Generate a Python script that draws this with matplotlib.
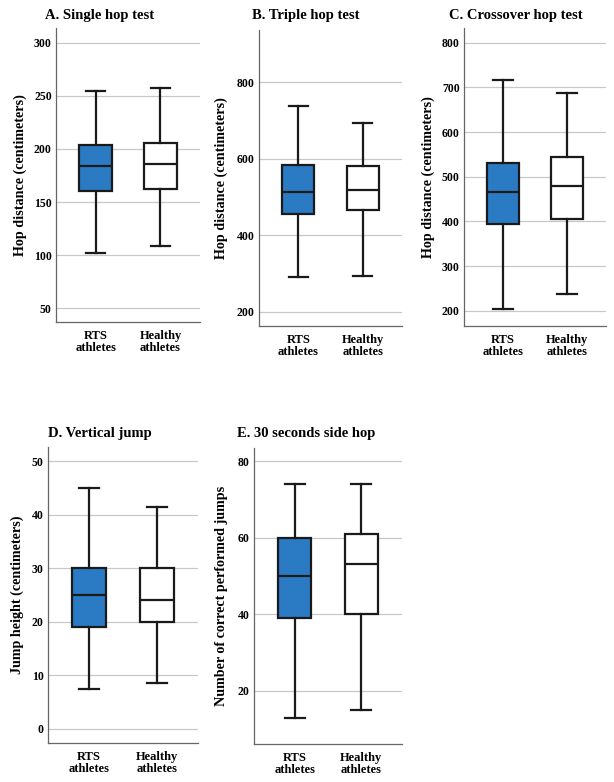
import matplotlib
matplotlib.use("Agg")
import matplotlib.pyplot as plt

plt.rcParams['font.family'] = ['Liberation Serif', 'DejaVu Serif']

groups = ["RTS\nathletes", "Healthy\nathletes"]

titles = ["A. Single hop test", "B. Triple hop test", "C. Crossover hop test",
          "D. Vertical jump", "E. 30 seconds side hop"]
ylabels = ["Hop distance (centimeters)", "Hop distance (centimeters)",
           "Hop distance (centimeters)", "Jump height (centimeters)",
           "Number of correct performed jumps"]

# [whislo, q1, med, q3, whishi] for RTS, Healthy
single_rts = [102, 160, 184, 204, 255]
single_healthy = [109, 162, 186, 206, 257]
triple_rts = [292, 456, 514, 584, 739]
triple_healthy = [294, 466, 518, 582, 693]
cross_rts = [205, 394, 467, 531, 717]
cross_healthy = [238, 405, 479, 544, 687]
vert_rts = [7.5, 19, 25, 30, 45]
vert_healthy = [8.5, 20, 24, 30, 41.5]
side_rts = [13, 39, 50, 60, 74]
side_healthy = [15, 40, 53, 61, 74]

yticks = [[50, 100, 150, 200, 250, 300],
          [200, 400, 600, 800],
          [200, 300, 400, 500, 600, 700, 800],
          [0, 10, 20, 30, 40, 50],
          [20, 40, 60, 80]]
ylims = [(37, 314), (163, 937), (166, 833), (-2.7, 52.7), (6.1, 83.4)]

data = [(single_rts, single_healthy), (triple_rts, triple_healthy),
        (cross_rts, cross_healthy), (vert_rts, vert_healthy),
        (side_rts, side_healthy)]

W, H = 614, 782
# left, top, right, bottom in pixels
boxes_px = [(56, 28, 200, 322), (259, 30, 402, 326), (464, 28, 606, 326),
            (48, 447, 198, 743), (254, 448, 402, 744)]
ylabel_x = [20, 221, 428, 17, 221]
title_x = [100, 306, 516, 100, 306]
title_y = [15, 16, 16, 433, 434]

fig = plt.figure(figsize=(W / 100, H / 100), dpi=100)
blue = '#2a7bc4'

for i in range(5):
    l, t, r, b = boxes_px[i]
    ax = fig.add_axes([l / W, 1 - b / H, (r - l) / W, (b - t) / H])
    stats = []
    for vals in data[i]:
        lo, q1, med, q3, hi = vals
        stats.append(dict(whislo=lo, q1=q1, med=med, q3=q3, whishi=hi, fliers=[]))
    lw = 1.6
    bp = ax.bxp(stats, positions=[1, 2], widths=0.5, capwidths=0.3,
                patch_artist=True, showfliers=False,
                boxprops=dict(linewidth=lw, edgecolor='#1a1a1a'),
                medianprops=dict(linewidth=lw, color='#1a1a1a'),
                whiskerprops=dict(linewidth=lw, color='#1a1a1a'),
                capprops=dict(linewidth=lw, color='#1a1a1a'), zorder=3)
    bp['boxes'][0].set_facecolor(blue)
    bp['boxes'][1].set_facecolor('white')
    ax.set_xlim(0.39, 2.61)
    ax.set_ylim(*ylims[i])
    ax.set_yticks(yticks[i])
    ax.set_yticklabels([str(v) for v in yticks[i]], fontsize=8.5, fontweight='bold')
    ax.set_xticks([1, 2])
    ax.set_xticklabels(groups, fontsize=9, fontweight='bold', linespacing=0.95)
    ax.tick_params(axis='y', length=0, pad=3)
    ax.tick_params(axis='x', length=0, pad=6)
    ax.yaxis.grid(True, color='#c8c8c8', linewidth=0.9)
    ax.set_axisbelow(True)
    for s in ['top', 'right']:
        ax.spines[s].set_visible(False)
    for s in ['left', 'bottom']:
        ax.spines[s].set_color('#666666')
        ax.spines[s].set_linewidth(0.9)
    fig.text(ylabel_x[i] / W, 1 - ((t + b) / 2) / H, ylabels[i], rotation=90,
             ha='center', va='center', fontsize=10.2, fontweight='bold')
    fig.text(title_x[i] / W, 1 - title_y[i] / H, titles[i], ha='center', va='center',
             fontsize=10.5, fontweight='bold')

fig.savefig("out.png", dpi=100, facecolor='white')
